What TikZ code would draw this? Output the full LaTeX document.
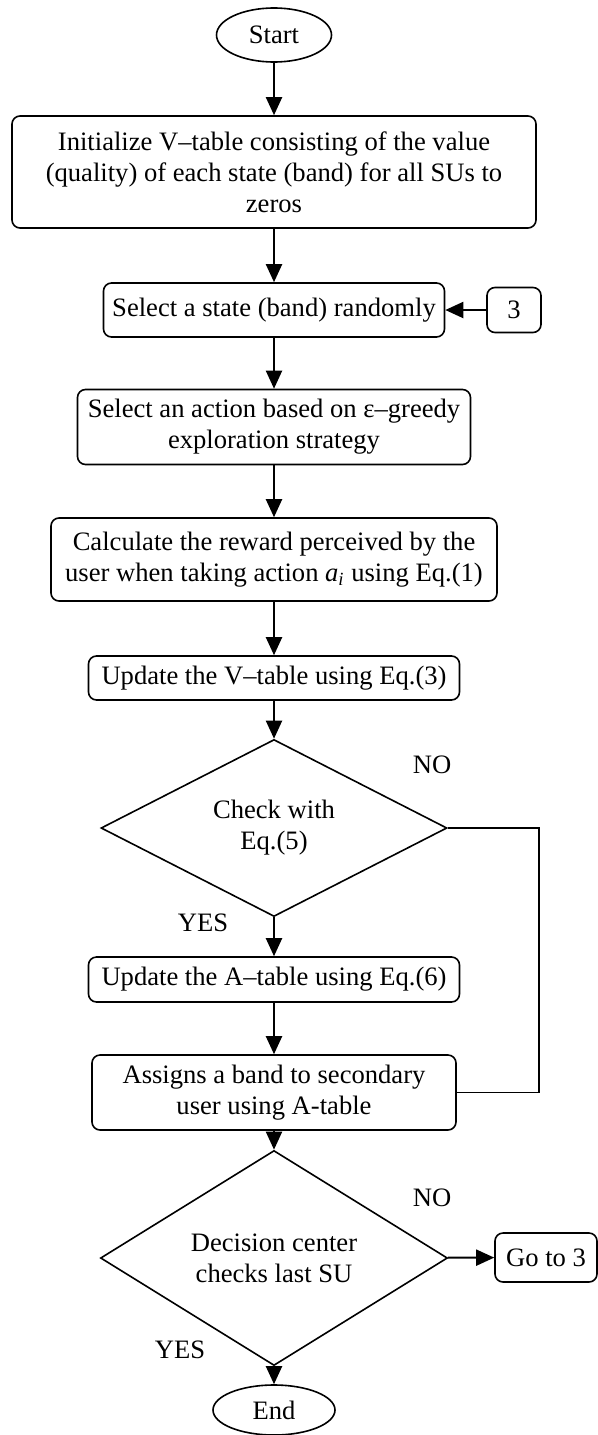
\documentclass[tikz,border=0pt]{standalone}
\usepackage{fontspec}
\setmainfont{Liberation Serif}
\usetikzlibrary{arrows.meta,shapes.geometric,positioning}

\begin{document}
\begin{tikzpicture}[x=0.5pt,y=-0.5pt,
    font=\fontsize{13.3}{15.5}\selectfont,
    procbox/.style={draw,rounded corners=4pt,line width=0.8pt,align=center,inner sep=0pt},
    termnode/.style={draw,ellipse,line width=0.8pt,inner sep=0pt},
    decbox/.style={draw,diamond,line width=0.8pt,align=center,inner sep=0pt},
    flowarrow/.style={-{Triangle[length=9pt,width=8pt]},line width=1pt}]
        \useasboundingbox (0,0) rectangle (598,1435);
        % main column
        \node[termnode,minimum width=57.5pt,minimum height=27pt] (start) at (274,35) {Start};
        \node[procbox,minimum width=262pt,minimum height=56pt] (init) at (274,172)
            {Initialize V--table consisting of the value\\(quality) of each state (band) for all SUs to\\zeros};
        \node[procbox,minimum width=170.5pt,minimum height=27pt] (select) at (274,310) {Select a state (band) randomly};
        \node[procbox,minimum width=27pt,minimum height=22.5pt] (three) at (514,310) {3};
        \node[procbox,minimum width=196.5pt,minimum height=37.5pt] (action) at (274,427)
            {Select an action based on ε--greedy\\exploration strategy};
        \node[procbox,minimum width=223pt,minimum height=41.5pt] (reward) at (274,559.5)
            {Calculate the reward perceived by the\\user when taking action \textit{a\textsubscript{i}} using Eq.(1)};
        \node[procbox,minimum width=185.5pt,minimum height=22pt] (updv) at (274,678) {Update the V--table using Eq.(3)};
        \node[decbox,minimum width=173pt,minimum height=75pt] (check) at (274,828) {Check with\\Eq.(5)};
        \node[procbox,minimum width=185.5pt,minimum height=22.5pt] (upda) at (274,979.5) {Update the A--table using Eq.(6)};
        \node[procbox,minimum width=182pt,minimum height=37.5pt] (assign) at (274,1092.5)
            {Assigns a band to secondary\\user using A-table};
        \node[decbox,minimum width=173.5pt,minimum height=75.5pt] (last) at (274,1258) {Decision center\\checks last SU};
        \node[procbox,minimum width=51pt,minimum height=24.5pt] (goto) at (546,1257.5) {Go to 3};
        \node[termnode,minimum width=61pt,minimum height=25pt] (end) at (274,1410) {End};
        % branch labels
        \node (no1) at (432,765) {NO};
        \node (yes1) at (203,923) {YES};
        \node (no2) at (432,1198) {NO};
        \node (yes2) at (180,1350) {YES};
        % connectors
        \draw[flowarrow] (start) -- (init);
        \draw[flowarrow] (init) -- (select);
        \draw[flowarrow] (three) -- (select);
        \draw[flowarrow] (select) -- (action);
        \draw[flowarrow] (action) -- (reward);
        \draw[flowarrow] (reward) -- (updv);
        \draw[flowarrow] (updv) -- (check);
        \draw[flowarrow] (check) -- (upda);
        \draw[flowarrow] (upda) -- (assign);
        \draw[flowarrow] (assign) -- (last);
        \draw[flowarrow] (last) -- (goto);
        \draw[flowarrow] (last) -- (end);
        \coordinate (loopx) at (539,960);
        \draw[line width=0.8pt] (check.east) -| (loopx) |- (assign.east);
      \end{tikzpicture}
\end{document}
